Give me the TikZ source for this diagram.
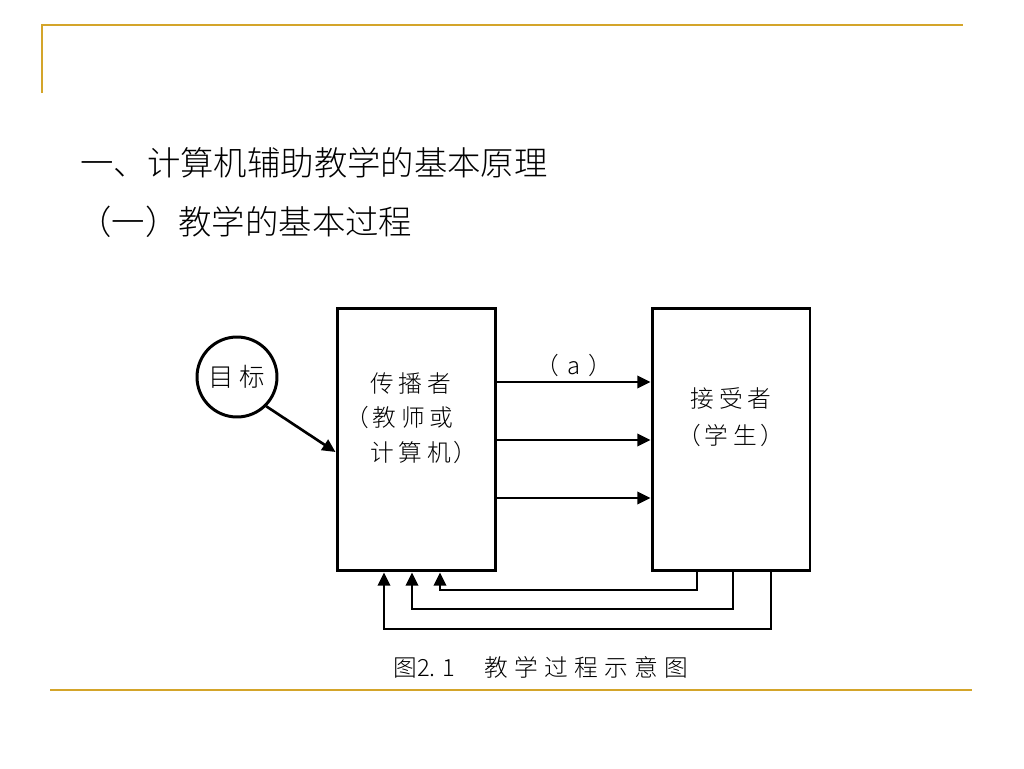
\documentclass[tikz,border=0pt]{standalone}
\usepackage{fontspec}
\setmainfont{Noto Sans CJK SC}
\newfontfamily\cjk{Noto Sans CJK SC}
\newfontfamily\cjkl{Noto Sans CJK SC Light}
\usetikzlibrary{arrows.meta}
\definecolor{rulegold}{HTML}{D4A52A}
\tikzset{
  rulel/.style={draw=rulegold, line width=1.3pt},
  boxl/.style={draw=black, line width=1.7pt},
  conn/.style={draw=black, line width=1.5pt, -{Triangle[length=7.5pt,width=7pt]}},
  lbl/.style={font=\cjkl\fontsize{13.5pt}{16pt}\selectfont, inner sep=0pt},
  ttl/.style={font=\cjkl\fontsize{19pt}{22pt}\selectfont, inner sep=0pt, anchor=west},
}
\newcommand{\gp}{\hspace{0.2em}}
\newcommand{\gq}{\hspace{0.27em}}
\begin{document}
\begin{tikzpicture}[x=0.02cm,y=-0.02cm]
\useasboundingbox (0,0) rectangle (1024,768);
% decorative rules
\draw[rulel] (42,93) -- (42,25) -- (963,25);
\draw[rulel] (50,690) -- (972,690);
% titles
\node[ttl] (t1) at (80,163) {一、计算机辅助教学的基本原理};
\node[ttl] (t2) at (78,222) {（一）教学的基本过程};
% boxes
\node[boxl, minimum width=3.18cm, minimum height=5.26cm, inner sep=0pt] (snd) at (416.5,439.5) {};
\node[boxl, minimum width=3.16cm, minimum height=5.26cm, inner sep=0pt] (rcv) at (731,439.5) {};
\node[boxl, circle, minimum size=1.6cm, inner sep=0pt] (goal) at (237,377) {};
\node[lbl, font=\cjkl\fontsize{14.5pt}{16pt}\selectfont] (goalt) at (237,377) {目\gp 标};
% sender text
\node[lbl, anchor=west] (s1) at (370,383) {传\gp 播\gp 者};
\node[lbl, anchor=west] (s2) at (345,417) {（\hspace{0.15em}教\gp 师\gp 或};
\node[lbl, anchor=west] (s3) at (370,452) {计\gp 算\gp 机\hspace{0.1em}）};
% receiver text
\node[lbl] (r1) at (731,398) {接\gp 受\gp 者};
\node[lbl] (r2) at (731,435) {（\hspace{0.15em}学\gp 生\hspace{0.15em}）};
% forward arrows
\draw[conn] (snd.east |- 0,382) -- (rcv.west |- 0,382);
\draw[conn] (snd.east |- 0,440) -- (rcv.west |- 0,440);
\draw[conn] (snd.east |- 0,498) -- (rcv.west |- 0,498);
\node[lbl] (alab) at (574,365) {（\hspace{0.35em}a\hspace{0.35em}）};
% goal arrow
\draw[conn] (goal.-45) -- (snd.west |- 0,452);
% feedback
\draw[conn] (rcv.south -| 697,0) |- (440,590) -- (snd.south -| 440,0);
\draw[conn] (rcv.south -| 733,0) |- (412,609) -- (snd.south -| 412,0);
\draw[conn] (rcv.south -| 771,0) |- (384,629) -- (snd.south -| 384,0);
% caption
\node[lbl] (cap) at (541,667) {图2.\hspace{0.3em}1\hspace{1.2em}教\gq 学\gq 过\gq 程\gq 示\gq 意\gq 图};
\end{tikzpicture}
\end{document}
